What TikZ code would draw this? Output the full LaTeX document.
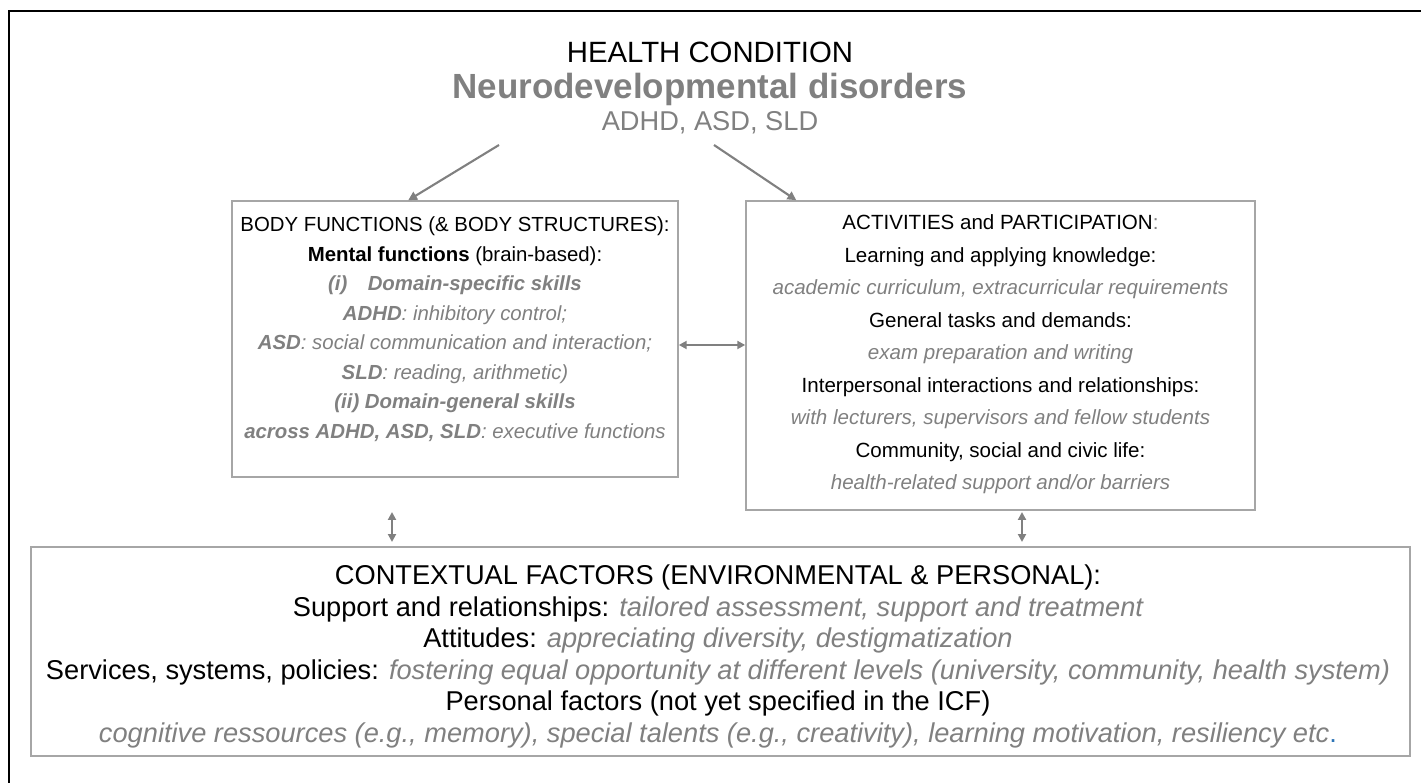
\documentclass[tikz,border=0pt]{standalone}
\usepackage{fontspec}
\setmainfont{Liberation Sans}
\usetikzlibrary{arrows.meta,positioning,calc}

\definecolor{softgray}{HTML}{808080}
\definecolor{framegray}{HTML}{A6A6A6}
\definecolor{dotblue}{HTML}{2E75B6}

% grey annotation text
\newcommand{\greyit}[1]{{\color{softgray}\itshape #1}}
\newcommand{\greybf}[1]{{\color{softgray}\bfseries\itshape #1}}

\tikzset{
  panel/.style={rectangle, draw=framegray, line width=0.9pt, inner sep=0pt},
  paneltext/.style={align=center, inner sep=0pt},
  feed/.style={-{Triangle[length=5pt,width=5pt]}, draw=softgray, line width=1.2pt},
  link/.style={{Triangle[length=4.5pt,width=4.5pt]}-{Triangle[length=4.5pt,width=4.5pt]}, draw=softgray, line width=1.2pt}
}

\begin{document}
\begin{tikzpicture}[x=0.02cm,y=-0.02cm]
\useasboundingbox (0,0) rectangle (1421,783);
\draw[line width=1.6pt] (9,800) |- (1440,11);

% health condition
\node[font=\fontsize{16.7}{19}\selectfont] (hc) at (710,52) {HEALTH CONDITION};
\node[font=\fontsize{19.9}{23}\selectfont\bfseries, text=softgray, below=-1pt of hc] (ndd) {Neurodevelopmental disorders};
\node[font=\fontsize{15.5}{18}\selectfont, text=softgray, below=-4pt of ndd] (types) {ADHD, ASD, SLD};

% the three panels
\node[panel, minimum width=8.92cm, minimum height=5.52cm] (bodybox) at (455,339) {};
\node[panel, minimum width=10.18cm, minimum height=6.18cm] (actbox) at (1000.5,355.5) {};
\node[panel, minimum width=27.58cm, minimum height=4.18cm] (ctxbox) at (720.5,651.5) {};

\node[paneltext, font=\fontsize{11.6}{16.8}\selectfont] (bodytxt) at (455,329) {%
BODY FUNCTIONS (\& BODY STRUCTURES):\\
\textbf{Mental functions} (brain-based):\\
\greybf{(i)\quad Domain-specific skills}\\
\greyit{\textbf{ADHD}: inhibitory control;}\\
\greyit{\textbf{ASD}: social communication and interaction;}\\
\greyit{\textbf{SLD}: reading, arithmetic)}\\
\greybf{(ii) Domain-general skills}\\
\greyit{\textbf{across ADHD, ASD, SLD}: executive functions}};

\node[paneltext, font=\fontsize{11.7}{18.5}\selectfont] (acttxt) at (1000.5,354.5) {%
ACTIVITIES and PARTICIPATION{\color{softgray}:}\\
Learning and applying knowledge:\\
\greyit{academic curriculum, extracurricular requirements}\\
General tasks and demands:\\
\greyit{exam preparation and writing}\\
Interpersonal interactions and relationships:\\
\greyit{with lecturers, supervisors and fellow students}\\
Community, social and civic life:\\
\greyit{health-related support and/or barriers}};

\node[paneltext, font=\fontsize{15.5}{17.9}\selectfont] (ctxtxt) at (718,656.5) {%
CONTEXTUAL FACTORS (ENVIRONMENTAL \& PERSONAL):\\
Support and relationships: \greyit{tailored assessment, support and treatment}\\
Attitudes: \greyit{appreciating diversity, destigmatization}\\
Services, systems, policies: \greyit{fostering equal opportunity at different levels (university, community, health system)}\\
Personal factors (not yet specified in the ICF)\\
\greyit{cognitive ressources (e.g., memory), special talents (e.g., creativity), learning motivation, resiliency etc}{\color{dotblue}.}};

% arrows
\coordinate (fromleft) at (499,145);
\coordinate (fromright) at (714,145);
\draw[feed] (fromleft) -- ($(bodybox.north west)+(177,0)$);
\draw[feed] (fromright) -- ($(actbox.north west)+(51,0)$);
\draw[link] (bodybox.east |- 0,345) -- (actbox.west |- 0,345);
\coordinate (lup) at (392,512);
\coordinate (ldown) at (392,542);
\coordinate (rup) at (1022,512);
\coordinate (rdown) at (1022,542);
\draw[link] (lup) -- (ldown);
\draw[link] (rup) -- (rdown);
\end{tikzpicture}
\end{document}
